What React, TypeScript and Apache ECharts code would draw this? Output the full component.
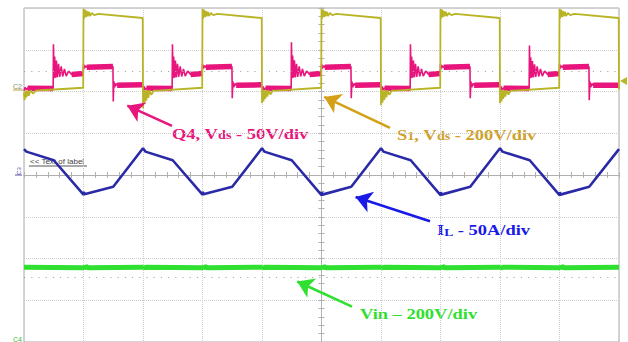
import React, { useEffect, useRef } from "react";
import * as echarts from "echarts";

// Time in divisions (-5..5), amplitude in divisions (-4..4)
const q4Vds: number[][] = [
  [-5, 2.02], [-4.98, 2.1], [-4.96, 2.04], [-4.94, 2.08], [-4.51, 2.07],
  [-4.505, 3.13], [-4.495, 2.32], [-4.485, 2.84], [-4.47, 2.33], [-4.455, 2.74], [-4.44, 2.34], [-4.42, 2.66], [-4.4, 2.35], [-4.375, 2.6], [-4.35, 2.36], [-4.32, 2.54], [-4.29, 2.37], [-4.25, 2.49], [-4.2, 2.41], [-4.005, 2.43],
  [-4, 2.66], [-3.985, 2.55], [-3.965, 2.62], [-3.945, 2.58], [-3.505, 2.6],
  [-3.5, 1.76], [-3.49, 2.24], [-3.475, 2.1], [-3.455, 2.19], [-3.435, 2.15], [-3.005, 2.16],
  [-2.995, 1.99], [-2.98, 2.12], [-2.96, 2.04], [-2.94, 2.08], [-2.51, 2.07],
  [-2.505, 3.13], [-2.495, 2.32], [-2.485, 2.84], [-2.47, 2.33], [-2.455, 2.74], [-2.44, 2.34], [-2.42, 2.66], [-2.4, 2.35], [-2.375, 2.6], [-2.35, 2.36], [-2.32, 2.54], [-2.29, 2.37], [-2.25, 2.49], [-2.2, 2.41], [-2.005, 2.43],
  [-2, 2.66], [-1.985, 2.55], [-1.965, 2.62], [-1.945, 2.58], [-1.505, 2.6],
  [-1.5, 1.84], [-1.49, 2.24], [-1.475, 2.1], [-1.455, 2.19], [-1.435, 2.15], [-1.005, 2.16],
  [-0.995, 1.99], [-0.98, 2.12], [-0.96, 2.04], [-0.94, 2.08], [-0.51, 2.07],
  [-0.505, 3.18], [-0.495, 2.32], [-0.485, 2.86], [-0.47, 2.33], [-0.455, 2.75], [-0.44, 2.34], [-0.42, 2.66], [-0.4, 2.35], [-0.375, 2.6], [-0.35, 2.36], [-0.32, 2.54], [-0.29, 2.37], [-0.25, 2.49], [-0.2, 2.41], [-0.005, 2.43],
  [0, 2.66], [0.015, 2.55], [0.035, 2.62], [0.055, 2.58], [0.495, 2.6],
  [0.5, 1.84], [0.51, 2.24], [0.525, 2.1], [0.545, 2.19], [0.565, 2.15], [0.995, 2.16],
  [1.005, 1.99], [1.02, 2.12], [1.04, 2.04], [1.06, 2.08], [1.49, 2.07],
  [1.495, 3.13], [1.505, 2.32], [1.515, 2.84], [1.53, 2.33], [1.545, 2.74], [1.56, 2.34], [1.58, 2.66], [1.6, 2.35], [1.625, 2.6], [1.65, 2.36], [1.68, 2.54], [1.71, 2.37], [1.75, 2.49], [1.8, 2.41], [1.995, 2.43],
  [2, 2.66], [2.015, 2.55], [2.035, 2.62], [2.055, 2.58], [2.495, 2.6],
  [2.5, 1.84], [2.51, 2.24], [2.525, 2.1], [2.545, 2.19], [2.565, 2.15], [2.995, 2.16],
  [3.005, 1.99], [3.02, 2.12], [3.04, 2.04], [3.06, 2.08], [3.49, 2.07],
  [3.495, 3.1], [3.505, 2.32], [3.515, 2.82], [3.53, 2.33], [3.545, 2.73], [3.56, 2.34], [3.58, 2.65], [3.6, 2.35], [3.625, 2.6], [3.65, 2.36], [3.68, 2.54], [3.71, 2.37], [3.75, 2.49], [3.8, 2.41], [3.995, 2.43],
  [4, 2.66], [4.015, 2.55], [4.035, 2.62], [4.055, 2.58], [4.495, 2.6],
  [4.5, 1.79], [4.51, 2.24], [4.525, 2.1], [4.545, 2.19], [4.565, 2.15], [5, 2.15],
];

const s1Vds: number[][] = [
  [-5, 1.98], [-4.99, 1.8], [-4.975, 2.02], [-4.96, 1.86], [-4.94, 2.02], [-4.92, 1.9], [-4.89, 2.03], [-4.85, 1.95], [-4.8, 2.02], [-4.7, 2.03], [-4.005, 2.09],
  [-4, 3.98], [-3.99, 3.75], [-3.975, 3.96], [-3.96, 3.78], [-3.945, 3.93], [-3.93, 3.8], [-3.91, 3.91], [-3.89, 3.81], [-3.86, 3.88], [-3.82, 3.83], [-3.75, 3.86], [-3.005, 3.76],
  [-3, 1.6], [-2.99, 2.04], [-2.975, 1.7], [-2.96, 2.03], [-2.945, 1.78], [-2.93, 2.03], [-2.91, 1.85], [-2.89, 2.03], [-2.86, 1.92], [-2.82, 2.02], [-2.75, 2.02], [-2.005, 2.09],
  [-2, 3.98], [-1.99, 3.75], [-1.975, 3.96], [-1.96, 3.78], [-1.945, 3.93], [-1.93, 3.8], [-1.91, 3.91], [-1.89, 3.81], [-1.86, 3.88], [-1.82, 3.83], [-1.75, 3.86], [-1.005, 3.76],
  [-1, 1.72], [-0.99, 2.04], [-0.975, 1.76], [-0.96, 2.03], [-0.945, 1.82], [-0.93, 2.03], [-0.91, 1.88], [-0.89, 2.03], [-0.86, 1.93], [-0.82, 2.02], [-0.75, 2.02], [-0.005, 2.09],
  [0, 3.98], [0.01, 3.75], [0.025, 3.96], [0.04, 3.78], [0.055, 3.93], [0.07, 3.8], [0.09, 3.91], [0.11, 3.81], [0.14, 3.88], [0.18, 3.83], [0.25, 3.86], [0.995, 3.76],
  [1, 1.67], [1.01, 2.04], [1.025, 1.73], [1.04, 2.03], [1.055, 1.8], [1.07, 2.03], [1.09, 1.86], [1.11, 2.03], [1.14, 1.92], [1.18, 2.02], [1.25, 2.02], [1.995, 2.09],
  [2, 3.98], [2.01, 3.75], [2.025, 3.96], [2.04, 3.78], [2.055, 3.93], [2.07, 3.8], [2.09, 3.91], [2.11, 3.81], [2.14, 3.88], [2.18, 3.83], [2.25, 3.86], [2.995, 3.76],
  [3, 1.72], [3.01, 2.04], [3.025, 1.76], [3.04, 2.03], [3.055, 1.82], [3.07, 2.03], [3.09, 1.88], [3.11, 2.03], [3.14, 1.93], [3.18, 2.02], [3.25, 2.02], [3.995, 2.09],
  [4, 3.98], [4.01, 3.75], [4.025, 3.96], [4.04, 3.78], [4.055, 3.93], [4.07, 3.8], [4.09, 3.91], [4.11, 3.81], [4.14, 3.88], [4.18, 3.83], [4.25, 3.86], [4.995, 3.76],
  [5, 2.05],
];

const iL: number[][] = [
  [-5, 0.62], [-4.96, 0.56], [-4.5, 0.353], [-4, -0.47], [-3.995, -0.4], [-3.985, -0.46], [-3.5, -0.282],
  [-3, 0.64], [-2.96, 0.56], [-2.5, 0.353], [-2, -0.47], [-1.995, -0.4], [-1.985, -0.46], [-1.5, -0.282],
  [-1, 0.64], [-0.96, 0.56], [-0.5, 0.353], [0, -0.48], [0.005, -0.41], [0.015, -0.47], [0.5, -0.282],
  [1, 0.64], [1.04, 0.56], [1.5, 0.353], [2, -0.48], [2.005, -0.41], [2.015, -0.47], [2.5, -0.282],
  [3, 0.64], [3.04, 0.56], [3.5, 0.353], [4, -0.48], [4.005, -0.41], [4.015, -0.47], [4.5, -0.282],
  [5, 0.62],
];

const vIn: number[][] = [
  [-5, -2.21], [-4, -2.22], [-3.995, -2.17], [-3.98, -2.25], [-3.96, -2.19], [-3.92, -2.22],
  [-3, -2.21], [-2.995, -2.19], [-2.98, -2.23], [-2.95, -2.21],
  [-2, -2.22], [-1.995, -2.17], [-1.98, -2.25], [-1.96, -2.19], [-1.92, -2.22],
  [-1, -2.21], [-0.995, -2.19], [-0.98, -2.23], [-0.95, -2.21],
  [0, -2.22], [0.005, -2.17], [0.02, -2.25], [0.04, -2.19], [0.08, -2.22],
  [1, -2.21], [1.005, -2.19], [1.02, -2.23], [1.05, -2.21],
  [2, -2.22], [2.005, -2.17], [2.02, -2.25], [2.04, -2.19], [2.08, -2.22],
  [3, -2.21], [3.005, -2.19], [3.02, -2.23], [3.05, -2.21],
  [4, -2.22], [4.005, -2.17], [4.02, -2.25], [4.04, -2.19], [4.08, -2.22],
  [5, -2.21],
];

const referenceRows = [2.49, -2.45];

const q4Label = "{a|Q4, V}{b|ds}{a| - 50V/div}";
const s1Label = "{a|S}{b|1}{a|, V}{b|ds}{a| - 200V/div}";
const iLLabel = "{a|I}{b|L}{a| - 50A/div}";
const vInLabel = "{a|Vin – 200V/div}";
const cursorLabel = "<< Text of label";

const MAGENTA = "#e8157c";
const OLIVE = "#b8b426";
const GOLD = "#cfa12a";
const NAVY = "#2a2aa8";
const BLUE = "#1a1ae6";
const GREEN = "#30e030";
const SERIF = "'Liberation Serif', 'Times New Roman', serif";
const SANS = "'Liberation Sans', Arial, sans-serif";

function flatBand(pts: number[][], maxSlope: number) {
  const out: any[] = [];
  let open = false;
  for (let i = 0; i < pts.length - 1; i++) {
    const [x0, y0] = pts[i];
    const [x1, y1] = pts[i + 1];
    const dx = x1 - x0;
    const flat = dx > 0 && Math.abs((y1 - y0) / dx) < maxSlope;
    if (flat) {
      if (!open) out.push([x0, y0]);
      out.push([x1, y1]);
      open = true;
    } else if (open) {
      out.push([(x0 + x1) / 2, "-"]);
      open = false;
    }
  }
  return out;
}

function arrow(color: string, from: number[], to: number[]) {
  return {
    silent: true,
    symbol: ["none", "arrow"],
    symbolSize: 16,
    label: { show: false },
    emphasis: { disabled: true },
    lineStyle: { color, width: 2.6, type: "solid" },
    data: [[{ coord: from }, { coord: to }]],
  };
}

function richStyle(color: string, big: number, small: number) {
  const base = { fontFamily: SERIF, fontWeight: "bold", fill: color, color, verticalAlign: "bottom" };
  return { a: { ...base, fontSize: big }, b: { ...base, fontSize: small } };
}

export default function App() {
  const ref = useRef<HTMLDivElement>(null);
  useEffect(() => {
    const chart = echarts.init(ref.current!, undefined, { renderer: "svg" });
    const axisGrey = "#b0b0b0";
    const baseX = {
      type: "value",
      min: -5,
      max: 5,
      interval: 1,
      axisLabel: { show: false },
      axisLine: { show: true, onZero: true, lineStyle: { color: axisGrey, width: 1 } },
      axisTick: { show: true, length: 3, lineStyle: { color: axisGrey } },
      minorTick: { show: true, splitNumber: 5, length: 3, lineStyle: { color: axisGrey } },
    };
    const baseY = {
      type: "value",
      min: -4,
      max: 4,
      interval: 1,
      axisLabel: { show: false },
      axisLine: { show: true, onZero: true, lineStyle: { color: axisGrey, width: 1 } },
      axisTick: { show: true, length: 3, lineStyle: { color: axisGrey } },
      minorTick: { show: true, splitNumber: 5, length: 3, lineStyle: { color: axisGrey } },
    };
    const split = { show: true, lineStyle: { color: "#cdcdcd", type: "dotted", width: 1 } };
    const option: any = {
      animation: false,
      backgroundColor: "#ffffff",
      grid: { left: 24, top: 8, width: 595, height: 340, show: true, borderColor: "#a8a8a8", borderWidth: 1 },
      xAxis: [
        { ...baseX, position: "bottom", splitLine: split },
        { ...baseX, position: "top", splitLine: { show: false } },
      ],
      yAxis: [
        { ...baseY, position: "left", splitLine: split },
        { ...baseY, position: "right", splitLine: { show: false } },
      ],
      series: [
        {
          type: "line",
          name: "Vin",
          data: vIn,
          showSymbol: false,
          silent: true,
          lineStyle: { color: GREEN, width: 5 },
          markLine: arrow(GREEN, [0.513, -3.153], [-0.408, -2.551]),
        },
        {
          type: "line",
          name: "IL",
          data: iL,
          showSymbol: false,
          silent: true,
          lineStyle: { color: NAVY, width: 2.6 },
          markLine: arrow(BLUE, [1.824, -1.106], [0.573, -0.529]),
        },
        {
          type: "line",
          name: "Q4 band",
          data: flatBand(q4Vds, 1.0),
          showSymbol: false,
          silent: true,
          connectNulls: false,
          lineStyle: { color: MAGENTA, width: 5.5 },
          markLine: {
            silent: true,
            symbol: "none",
            label: { show: false },
            emphasis: { disabled: true },
            lineStyle: { color: "#a8a8a8", width: 1.2, type: [1.2, 6] },
            data: referenceRows.map((v) => ({ yAxis: v })),
          },
        },
        {
          type: "line",
          name: "Q4 Vds",
          data: q4Vds,
          showSymbol: false,
          silent: true,
          lineStyle: { color: MAGENTA, width: 1.6 },
          markLine: arrow(MAGENTA, [-2.513, 1.176], [-3.264, 1.661]),
        },
        {
          type: "line",
          name: "S1 Vds",
          data: s1Vds,
          showSymbol: false,
          silent: true,
          lineStyle: { color: OLIVE, width: 1.8 },
          markLine: arrow("#d4a017", [1.151, 1.129], [0.045, 1.871]),
        },
      ],
      graphic: [
        { type: "text", x: 172, y: 134, scaleX: 1.23, style: { text: q4Label, verticalAlign: "middle", rich: richStyle(MAGENTA, 15, 11.5) } },
        { type: "text", x: 397, y: 135, scaleX: 1.23, style: { text: s1Label, verticalAlign: "middle", rich: richStyle(GOLD, 15, 11.5) } },
        { type: "text", x: 437, y: 230, scaleX: 1.23, style: { text: iLLabel, verticalAlign: "middle", rich: richStyle(BLUE, 15, 11) } },
        { type: "text", x: 360, y: 314, scaleX: 1.23, style: { text: vInLabel, verticalAlign: "middle", rich: richStyle(GREEN, 15, 11) } },
        { type: "text", x: 30, y: 161, style: { text: cursorLabel, fontSize: 8, fontFamily: SANS, fill: "#444444", verticalAlign: "middle" } },
        { type: "line", shape: { x1: 29, y1: 166, x2: 87, y2: 166 }, style: { stroke: "#555555", lineWidth: 1 } },
        { type: "text", x: 13, y: 86, style: { text: "C2", fontSize: 7, fontFamily: SANS, fill: "#8c8c5a", verticalAlign: "middle" } },
        { type: "line", shape: { x1: 13, y1: 90, x2: 23, y2: 90 }, style: { stroke: "#b0a040", lineWidth: 1 } },
        { type: "text", x: 19, y: 171, rotation: Math.PI / 2, style: { text: "C3", fontSize: 6, fontFamily: SANS, fill: "#5050a0", align: "center", verticalAlign: "middle" } },
        { type: "line", shape: { x1: 15, y1: 175, x2: 22, y2: 175 }, style: { stroke: "#5050a0", lineWidth: 1 } },
        { type: "text", x: 13, y: 339, style: { text: "C4", fontSize: 7, fontFamily: SANS, fill: "#40c040", verticalAlign: "middle" } },
        { type: "polygon", shape: { points: [[620, 81], [627, 77], [627, 85]] }, style: { fill: "#b4b82a" } },
      ],
    };
    chart.setOption(option);
    return () => chart.dispose();
  }, []);
  return (
    <div
      ref={ref}
      style={{ position: "fixed", left: 0, top: 0, width: 628, height: 342, background: "#ffffff" }}
    />
  );
}
